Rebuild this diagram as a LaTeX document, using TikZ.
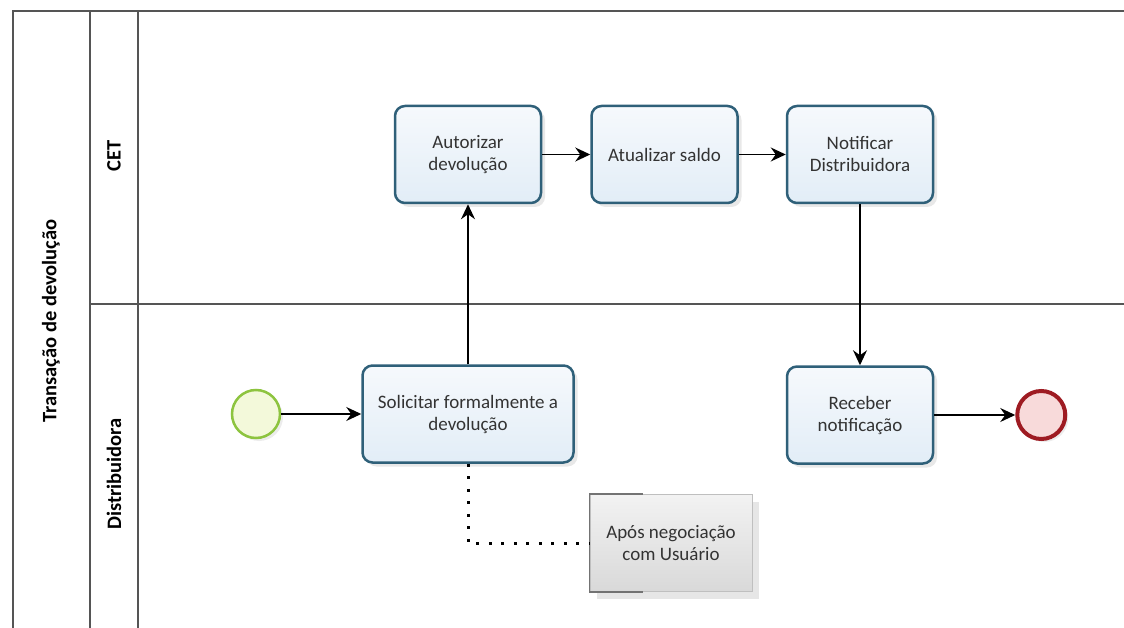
\documentclass[tikz,border=0pt]{standalone}
\usepackage{fontspec}
\setmainfont{Carlito}
\usepackage{tikz}
\usetikzlibrary{positioning,arrows.meta,shadows}
\definecolor{taskline}{HTML}{2F6079}
\definecolor{tasktop}{HTML}{F6F9FC}
\definecolor{taskbot}{HTML}{E2EDF7}
\definecolor{startline}{HTML}{8DC43F}
\definecolor{startfill}{HTML}{F3F9DA}
\definecolor{endline}{HTML}{9E1B22}
\definecolor{endfill}{HTML}{F8DADA}
\definecolor{poolline}{HTML}{555555}

\begin{document}
\begin{tikzpicture}[x=1pt,y=-1pt,
	every node/.style={font=\fontsize{19}{22}\selectfont},
	task/.style={draw=taskline, line width=2.5pt, rounded corners=10pt, top color=tasktop, bottom color=taskbot, minimum width=146pt, minimum height=97pt, inner sep=0pt, align=center, text=black!80, drop shadow={shadow xshift=4pt, shadow yshift=-4pt, opacity=0.18}},
	startev/.style={circle, draw=startline, line width=2.5pt, fill=startfill, minimum size=48pt, inner sep=0pt, drop shadow={shadow xshift=3pt, shadow yshift=-3pt, opacity=0.15}},
	endev/.style={circle, draw=endline, line width=4pt, fill=endfill, minimum size=48pt, inner sep=0pt, drop shadow={shadow xshift=3pt, shadow yshift=-3pt, opacity=0.15}},
	lanehead/.style={rotate=90, font=\fontsize{20.5}{24}\selectfont\bfseries},
	flow/.style={draw=black, line width=1.5pt, -{Stealth[length=15pt, width=14pt, inset=5pt]}},
	assoc/.style={draw=black, line width=3pt, dash pattern=on 3pt off 9.5pt},
	pool/.style={draw=poolline, line width=1.5pt}]
	\useasboundingbox (0,0) rectangle (1124,628);
	
	% pool and lanes
	\draw[pool] (13,628) -- (13,11) -- (1124,11);
	\draw[pool] (90,11) -- (90,628);
	\draw[pool] (138,11) -- (138,628);
	\draw[pool] (90,304) -- (1124,304);
	\node[lanehead] (titulo) at (51,321) {Transação de devolução};
	\node[lanehead] (cet) at (114,156) {CET};
	\node[lanehead] (distribuidora) at (114,474) {Distribuidora};
	
	% tasks and events
	\node[task, minimum width=211pt] (solicitar) at (468,414) {Solicitar formalmente a\\devolução};
	\node[task, above=160pt of solicitar] (autorizar) {Autorizar\\devolução};
	\node[task, right=48pt of autorizar] (atualizar) {Atualizar saldo};
	\node[task, right=47pt of atualizar] (notificar) {Notificar\\Distribuidora};
	\node[task, below=161pt of notificar] (receber) {Receber\\notificação};
	\node[startev, left=80pt of solicitar] (inicio) {};
	\node[endev, right=81pt of receber] (fim) {};
	
	% annotation
	\node[draw=black!25, line width=1pt, top color=black!5, bottom color=black!15, minimum width=162pt, minimum height=97pt, align=center, text=black!80, drop shadow={shadow xshift=7pt, shadow yshift=-7pt, opacity=0.2}] (nota) at (671,543) {Após negociação\\com Usuário};
	\draw[black!55, line width=1.5pt] ([xshift=53pt]nota.north west) -- (nota.north west) -- (nota.south west) -- ([xshift=53pt]nota.south west);
	
	% flows
	\draw[flow] (inicio) -- (solicitar);
	\draw[flow] (solicitar) -- (autorizar);
	\draw[flow] (autorizar) -- (atualizar);
	\draw[flow] (atualizar) -- (notificar);
	\draw[flow] (notificar) -- (receber);
	\draw[flow] (receber) -- (fim);
	\draw[assoc] (solicitar.south) |- (nota.west);
\end{tikzpicture}
\end{document}
